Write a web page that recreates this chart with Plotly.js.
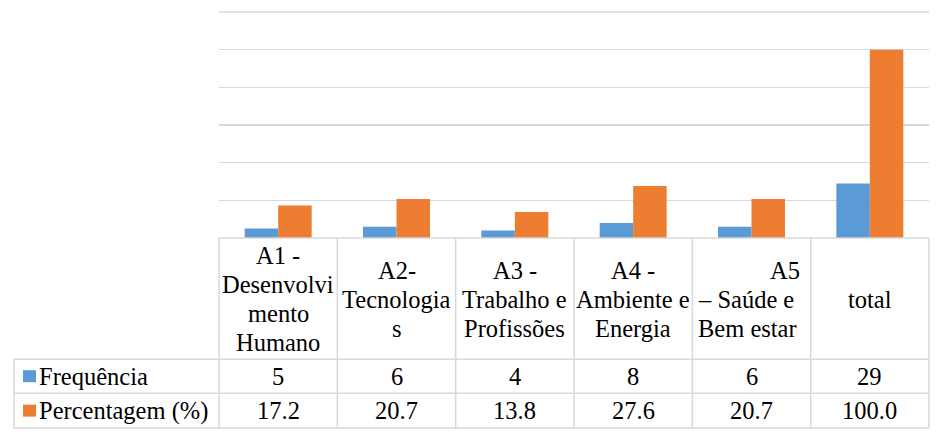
<!DOCTYPE html>
<html>
<head>
<meta charset="utf-8">
<script src="https://cdn.plot.ly/plotly-3.0.1.min.js"></script>
<style>
  html, body { margin: 0; padding: 0; background: #fff; }
  #chart { width: 947px; height: 441px; }
</style>
</head>
<body>
<div id="chart"></div>
<script>
// ---- data ----
var categories = ['A1 - Desenvolvimento Humano', 'A2- Tecnologias', 'A3 - Trabalho e Profissões',
                  'A4 - Ambiente e Energia', 'A5 – Saúde e Bem estar', 'total'];
var categoryLines = [
  ['A1 -', 'Desenvolvi', 'mento', 'Humano'],
  ['A2-', 'Tecnologia', 's'],
  ['A3 -', 'Trabalho e', 'Profissões'],
  ['A4 -', 'Ambiente e', 'Energia'],
  ['A5', '– Saúde e', 'Bem estar'],
  ['total']
];
var seriesNames = ['Frequência', 'Percentagem (%)'];
var frequencia = [5, 6, 4, 8, 6, 29];
var percentagem = [17.2, 20.7, 13.8, 27.6, 20.7, 100.0];
var seriesColors = ['#5B9BD5', '#ED7D31'];

// ---- layout geometry (pixels) ----
var W = 947, H = 441;
var plotL = 219, plotR = 929, plotT = 12, plotB = 238.5;
var tableLeft = 14;
var rowBounds = [238.5, 360, 394, 429];
var lineSpacing = 29, headerCenter = 300;
var gridColor = '#d9d9d9';
var FONT = 'Liberation Serif';
var FS = 24.5;

function px(x) { return (x - plotL) / (plotR - plotL); }
function py(y) { return (plotB - y) / (plotB - plotT); }

var nCat = categories.length;
var colW = (plotR - plotL) / nCat;

var traces = [
  { type: 'bar', name: seriesNames[0], x: categories, y: frequencia,
    marker: { color: seriesColors[0] }, hoverinfo: 'skip' },
  { type: 'bar', name: seriesNames[1], x: categories, y: percentagem,
    marker: { color: seriesColors[1] }, hoverinfo: 'skip' }
];

var shapes = [];
var annotations = [];
var lineStyle = { color: gridColor, width: 1.5 };

// top gridline (edge of range)
shapes.push({ type: 'line', xref: 'paper', yref: 'paper', x0: 0, x1: 1, y0: 1, y1: 1, line: lineStyle, layer: 'below' });

// horizontal table lines
shapes.push({ type: 'line', xref: 'paper', yref: 'paper', x0: px(plotL), x1: px(plotR),
              y0: py(rowBounds[0]), y1: py(rowBounds[0]), line: lineStyle });
for (var r = 1; r < rowBounds.length; r++) {
  shapes.push({ type: 'line', xref: 'paper', yref: 'paper', x0: px(tableLeft), x1: px(plotR),
                y0: py(rowBounds[r]), y1: py(rowBounds[r]), line: lineStyle });
}
// vertical table lines
for (var c = 0; c <= nCat; c++) {
  var xx = plotL + c * colW;
  shapes.push({ type: 'line', xref: 'paper', yref: 'paper', x0: px(xx), x1: px(xx),
                y0: py(rowBounds[0]), y1: py(rowBounds[3]), line: lineStyle });
}
shapes.push({ type: 'line', xref: 'paper', yref: 'paper', x0: px(tableLeft), x1: px(tableLeft),
              y0: py(rowBounds[1]), y1: py(rowBounds[3]), line: lineStyle });

// header text (category labels)
for (var i = 0; i < nCat; i++) {
  var lines = categoryLines[i];
  var n = lines.length;
  for (var k = 0; k < n; k++) {
    var yc = headerCenter + (k - (n - 1) / 2) * lineSpacing;
    var ann = { xref: 'paper', yref: 'paper', y: py(yc), yanchor: 'middle',
                text: lines[k], showarrow: false, font: { family: FONT, size: FS, color: '#000' } };
    if (i === 4) {
      if (k === 0) { ann.x = px(802); ann.xanchor = 'right'; }
      else { ann.x = px(696); ann.xanchor = 'left'; }
    } else {
      ann.x = px(plotL + (i + 0.5) * colW); ann.xanchor = 'center';
    }
    annotations.push(ann);
  }
}

// value rows
var rowData = [frequencia.map(function (v) { return String(v); }),
               percentagem.map(function (v) { return v.toFixed(1); })];
for (var rr = 0; rr < 2; rr++) {
  var ymid = (rowBounds[rr + 1] + rowBounds[rr + 2]) / 2;
  for (var j = 0; j < nCat; j++) {
    annotations.push({ xref: 'paper', yref: 'paper', x: px(plotL + (j + 0.5) * colW), y: py(ymid),
                       xanchor: 'center', yanchor: 'middle', text: rowData[rr][j], showarrow: false,
                       font: { family: FONT, size: FS, color: '#000' } });
  }
  // legend key + name
  shapes.push({ type: 'rect', xref: 'paper', yref: 'paper', x0: px(23), x1: px(36),
                y0: py(ymid - 6), y1: py(ymid + 6), fillcolor: seriesColors[rr], line: { width: 0 } });
  annotations.push({ xref: 'paper', yref: 'paper', x: px(37), y: py(ymid), xanchor: 'left', yanchor: 'middle',
                     text: seriesNames[rr], showarrow: false, font: { family: FONT, size: FS, color: '#000' } });
}

var layout = {
  width: W, height: H,
  font: { family: FONT, size: FS, color: '#000' },
  margin: { l: plotL, r: W - plotR, t: plotT, b: H - plotB, pad: 0 },
  paper_bgcolor: '#fff', plot_bgcolor: '#fff',
  showlegend: false,
  barmode: 'group', bargap: 0.434, bargroupgap: 0,
  xaxis: { type: 'category', showticklabels: false, showgrid: false, zeroline: false,
           showline: false, ticks: '' },
  yaxis: { range: [0, 120], dtick: 20, showticklabels: false, showgrid: true,
           gridcolor: gridColor, gridwidth: 1.5, zeroline: false, showline: false, ticks: '' },
  shapes: shapes,
  annotations: annotations
};

Plotly.newPlot('chart', traces, layout, { staticPlot: true, displayModeBar: false });
</script>
</body>
</html>
